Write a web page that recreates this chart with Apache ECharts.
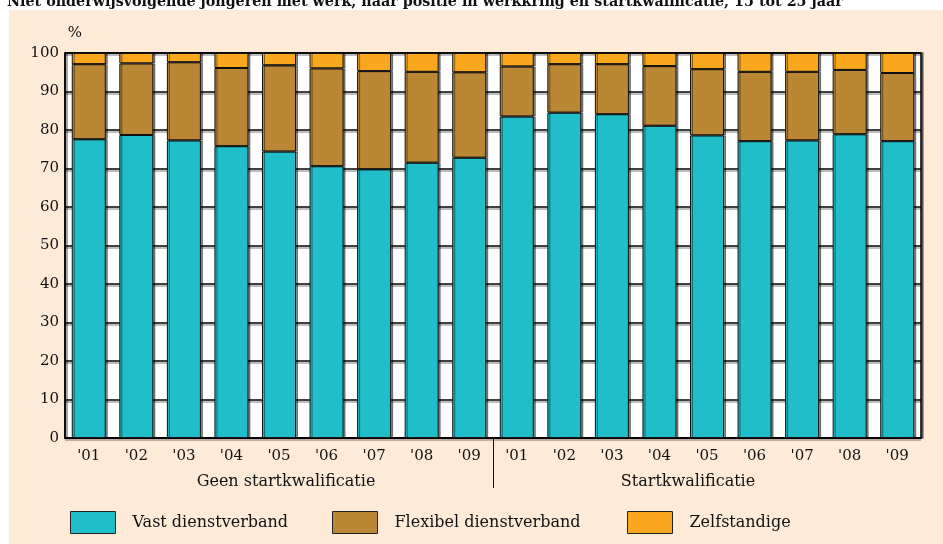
<!DOCTYPE html>
<html>
<head>
<meta charset="utf-8">
<script src="https://cdn.jsdelivr.net/npm/echarts@6/dist/echarts.min.js"></script>
<style>
html,body{margin:0;padding:0;background:#fff;}
#c{width:943px;height:544px;}
</style>
</head>
<body>
<div id="c"></div>
<script>
const title = "Niet onderwijsvolgende jongeren met werk, naar positie in werkkring en startkwalificatie, 15 tot 25 jaar";
const categories = ["'01","'02","'03","'04","'05","'06","'07","'08","'09","'01","'02","'03","'04","'05","'06","'07","'08","'09"];
const groups = ["Geen startkwalificatie", "Startkwalificatie"];
const seriesNames = ["Vast dienstverband", "Flexibel dienstverband", "Zelfstandige"];
const vast = [77.6,78.7,77.3,75.8,74.4,70.6,69.8,71.5,72.8,83.5,84.5,84.1,81.1,78.6,77.1,77.3,78.9,77.1];
const flex = [19.5,18.6,20.3,20.3,22.4,25.4,25.5,23.6,22.2,13.0,12.6,13.0,15.5,17.2,18.0,17.8,16.7,17.7];
const zelf = [2.9,2.7,2.4,3.9,3.2,4.0,4.7,4.9,5.0,3.5,2.9,2.9,3.4,4.2,4.9,4.9,4.4,5.2];
const yTicks = {min:0, max:100, interval:10};

const colors = ['#20BEC8', '#BA8834', '#F9A81E'];
const FONT = 'DejaVu Serif';
const chart = echarts.init(document.getElementById('c'), null, {renderer:'canvas'});

function barSeries(name, data, color){
  return {
    name, type:'bar', stack:'s', data, barCategoryGap:'28.5%', z:10,
    itemStyle:{color, borderColor:'#111', borderWidth:1,
      shadowColor:'rgba(0,0,0,0.45)', shadowOffsetX:2, shadowOffsetY:0, shadowBlur:0},
    emphasis:{disabled:true}
  };
}
function legendAt(name, left){
  return {
    data:[name], left, top:506, orient:'horizontal',
    itemWidth:45, itemHeight:22, icon:'rect',
    itemStyle:{borderColor:'#222', borderWidth:1, shadowBlur:0, shadowOffsetX:0, shadowColor:'transparent'},
    textStyle:{fontFamily:FONT, fontSize:16, color:'#111', padding:[10,0,0,12]},
    selectedMode:false
  };
}

function graphics(extra){
  return [
    {type:'rect', z:-10, silent:true, shape:{x:9, y:10, width:934, height:534}, style:{fill:'#FDEBD8'}},
    {type:'text', silent:true, x:7, y:9, style:{text:title, font:'bold 14.3px "DejaVu Serif"', fill:'#111', verticalAlign:'bottom'}},
    {type:'text', silent:true, x:75, y:33, style:{text:'%', font:'15px "DejaVu Serif"', fill:'#111', align:'center', verticalAlign:'middle'}}
  ].concat(extra || []);
}

const option = {
  backgroundColor:'#fff',
  animation:false,
  grid:{left:65, right:22, top:53, bottom:106, show:true, backgroundColor:'#fff',
    borderColor:'#000', borderWidth:1.5,
    shadowColor:'rgba(0,0,0,0.45)', shadowOffsetX:2, shadowOffsetY:0, shadowBlur:0},
  xAxis:{type:'category', data:categories, z:1,
    axisLine:{lineStyle:{color:'#000', width:1.5}},
    axisTick:{show:false},
    axisLabel:{fontFamily:FONT, fontSize:15, color:'#111', margin:11}},
  yAxis:{type:'value', min:yTicks.min, max:yTicks.max, interval:yTicks.interval, z:1,
    axisLine:{show:true, lineStyle:{color:'#000', width:1.5}},
    axisTick:{show:false},
    axisLabel:{fontFamily:FONT, fontSize:15, color:'#111', margin:6},
    splitLine:{show:true, lineStyle:{color:'#000', width:1.5,
      shadowColor:'rgba(0,0,0,0.35)', shadowOffsetY:2, shadowBlur:0}}},
  legend:[legendAt(seriesNames[0],65), legendAt(seriesNames[1],327), legendAt(seriesNames[2],622)],
  series:[barSeries(seriesNames[0], vast, colors[0]), barSeries(seriesNames[1], flex, colors[1]), barSeries(seriesNames[2], zelf, colors[2])],
  graphic:graphics()
};
chart.setOption(option);

// group separator and group labels positioned via the axis scale
const p9 = chart.convertToPixel({xAxisIndex:0}, 8);
const p10 = chart.convertToPixel({xAxisIndex:0}, 9);
const sepX = Math.round((p9 + p10)/2) + 0.5;
const y0 = chart.convertToPixel({yAxisIndex:0}, 0);
chart.setOption({graphic:graphics([
  {type:'line', silent:true, shape:{x1:sepX, y1:y0, x2:sepX, y2:y0+50}, style:{stroke:'#111', lineWidth:1}},
  {type:'text', silent:true, x:286, y:482, style:{text:groups[0], font:'16px "DejaVu Serif"', fill:'#111', align:'center', verticalAlign:'middle'}},
  {type:'text', silent:true, x:688, y:482, style:{text:groups[1], font:'16px "DejaVu Serif"', fill:'#111', align:'center', verticalAlign:'middle'}}
])}, {replaceMerge:['graphic']});
</script>
</body>
</html>
